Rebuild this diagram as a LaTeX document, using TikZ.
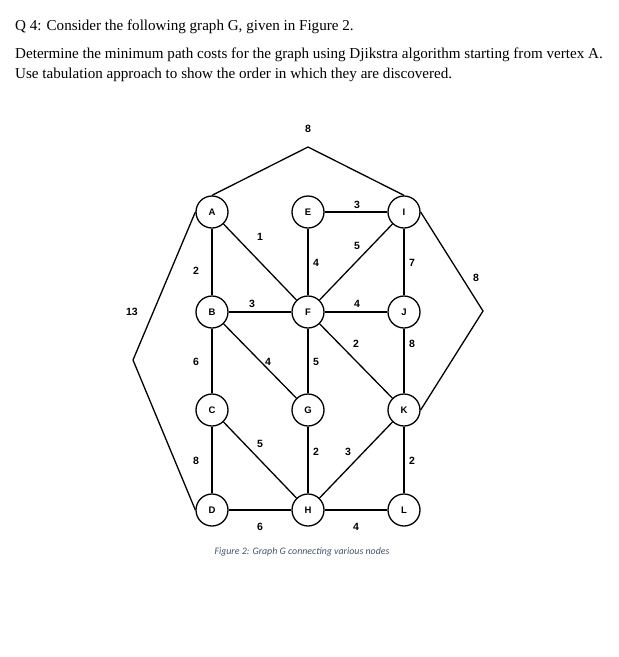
\documentclass[tikz,border=0pt]{standalone}
\usepackage{fontspec}
\setmainfont{Liberation Serif}
\newfontfamily\arialfont{Liberation Sans}
\newfontfamily\calibrifont{Carlito}
\usepackage{xcolor}
\definecolor{capblue}{HTML}{44546A}

\begin{document}
\begin{tikzpicture}[x=1pt, y=-1pt,
  vertex/.style={draw, circle, line width=1.3pt, minimum size=32pt, inner sep=0pt, font=\arialfont\bfseries\fontsize{9.5}{10}\selectfont},
  edge/.style={line width=1.3pt},
  wt/.style={inner sep=0pt, font=\arialfont\bfseries\fontsize{10.5}{11}\selectfont},
  qtext/.style={anchor=base west, inner sep=0pt, font=\fontsize{15.1}{17}\selectfont}
]
  \useasboundingbox (0,0) rectangle (619,657);

  % Question text
  \node[qtext] (q1) at (15,30) {Q 4: Consider the following graph G, given in Figure 2.};
  \node[qtext] (q2) at (15,58.5) {Determine the minimum path costs for the graph using Djikstra algorithm starting from vertex A.};
  \node[qtext] (q3) at (15,78.5) {Use tabulation approach to show the order in which they are discovered.};

  % Vertices
  \node[vertex] (A) at (212,212) {A};
  \node[vertex] (E) at (308,212) {E};
  \node[vertex] (I) at (404,212) {I};
  \node[vertex] (B) at (212,312) {B};
  \node[vertex] (F) at (308,312) {F};
  \node[vertex] (J) at (404,312) {J};
  \node[vertex] (C) at (212,410) {C};
  \node[vertex] (G) at (308,410) {G};
  \node[vertex] (K) at (404,410) {K};
  \node[vertex] (D) at (212,510) {D};
  \node[vertex] (H) at (308,510) {H};
  \node[vertex] (L) at (404,510) {L};

  % Bends of the outer edges
  \coordinate (top) at (308,147);
  \coordinate (lft) at (133,360);
  \coordinate (rgt) at (483,311);

  % Edges
  \draw[edge] (A.north) -- (top) -- (I.north);
  \draw[edge] (A.west) -- (lft) -- (D.west);
  \draw[edge] (I.east) -- (rgt) -- (K.east);
  \draw[edge] (A) -- (B);
  \draw[edge] (A) -- (F);
  \draw[edge] (E) -- (F);
  \draw[edge] (E) -- (I);
  \draw[edge] (F) -- (I);
  \draw[edge] (I) -- (J);
  \draw[edge] (B) -- (F);
  \draw[edge] (F) -- (J);
  \draw[edge] (B) -- (C);
  \draw[edge] (B) -- (G);
  \draw[edge] (F) -- (G);
  \draw[edge] (F) -- (K);
  \draw[edge] (J) -- (K);
  \draw[edge] (C) -- (D);
  \draw[edge] (C) -- (H);
  \draw[edge] (G) -- (H);
  \draw[edge] (K) -- (H);
  \draw[edge] (K) -- (L);
  \draw[edge] (D) -- (H);
  \draw[edge] (H) -- (L);

  % Weights
  \node[wt] (wAI) at (308,129) {8};
  \node[wt] (wAD) at (132,312) {13};
  \node[wt] (wIK) at (476,278) {8};
  \node[wt] (wAB) at (196,271) {2};
  \node[wt] (wAF) at (260,237) {1};
  \node[wt] (wEF) at (316,263) {4};
  \node[wt] (wEI) at (357,205) {3};
  \node[wt] (wFI) at (357,246) {5};
  \node[wt] (wIJ) at (412,263) {7};
  \node[wt] (wBF) at (252,304) {3};
  \node[wt] (wFJ) at (357,304) {4};
  \node[wt] (wBC) at (196,362) {6};
  \node[wt] (wBG) at (268,362) {4};
  \node[wt] (wFG) at (316,362) {5};
  \node[wt] (wFK) at (356,344) {2};
  \node[wt] (wJK) at (412,344) {8};
  \node[wt] (wCH) at (260,444) {5};
  \node[wt] (wCD) at (196,461) {8};
  \node[wt] (wGH) at (316,452) {2};
  \node[wt] (wKH) at (348,452) {3};
  \node[wt] (wKL) at (412,461) {2};
  \node[wt] (wDH) at (260,527) {6};
  \node[wt] (wHL) at (356,527) {4};

  % Caption
  \node[inner sep=0pt, text=capblue, font=\calibrifont\itshape\fontsize{9.9}{11}\selectfont] (cap) at (302,552) {Figure 2: Graph G connecting various nodes};
\end{tikzpicture}
\end{document}
